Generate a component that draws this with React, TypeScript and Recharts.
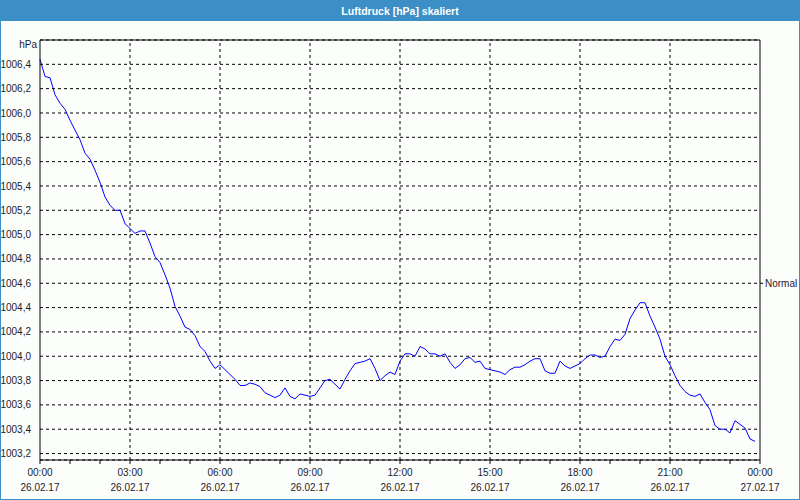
import React from "react";
import {
  LineChart,
  Line,
  XAxis,
  YAxis,
  CartesianGrid,
  ReferenceLine,
} from "recharts";

// Luftdruck in hPa, ein Wert alle 10 Minuten ab 26.02.17 00:00
const pressure = [
  1006.44, 1006.3, 1006.29, 1006.15, 1006.08, 1006.03, 1005.94, 1005.86, 1005.78, 1005.67,
  1005.62, 1005.53, 1005.43, 1005.31, 1005.24, 1005.2, 1005.2, 1005.09, 1005.05, 1005.01,
  1005.03, 1005.03, 1004.93, 1004.82, 1004.77, 1004.67, 1004.56, 1004.41, 1004.33, 1004.24,
  1004.22, 1004.17, 1004.08, 1004.04, 1003.96, 1003.9, 1003.93, 1003.89, 1003.85, 1003.81,
  1003.76, 1003.76, 1003.78, 1003.77, 1003.75, 1003.7, 1003.68, 1003.66, 1003.68, 1003.74,
  1003.67, 1003.65, 1003.69, 1003.68, 1003.67, 1003.68, 1003.74, 1003.8, 1003.81, 1003.77,
  1003.73, 1003.81, 1003.88, 1003.94, 1003.95, 1003.96, 1003.98, 1003.9, 1003.8, 1003.84,
  1003.87, 1003.85, 1003.96, 1004.02, 1004.02, 1004.0, 1004.08, 1004.06, 1004.02, 1004.02,
  1004.0, 1004.02, 1003.95, 1003.9, 1003.93, 1003.98, 1003.99, 1003.95, 1003.96, 1003.9,
  1003.89, 1003.88, 1003.87, 1003.85, 1003.89, 1003.91, 1003.91, 1003.93, 1003.96, 1003.98,
  1003.98, 1003.88, 1003.86, 1003.86, 1003.96, 1003.92, 1003.9, 1003.92, 1003.94, 1003.98,
  1004.01, 1004.01, 1003.99, 1004.0, 1004.08, 1004.14, 1004.13, 1004.18, 1004.31, 1004.38,
  1004.44, 1004.44, 1004.33, 1004.24, 1004.14, 1004.0, 1003.93, 1003.84, 1003.76, 1003.71,
  1003.68, 1003.67, 1003.69, 1003.62, 1003.56, 1003.43, 1003.4, 1003.4, 1003.37, 1003.47,
  1003.44, 1003.41, 1003.32, 1003.3,
];

const yTicks = [
  1003.2, 1003.4, 1003.6, 1003.8, 1004.0, 1004.2, 1004.4, 1004.6,
  1004.8, 1005.0, 1005.2, 1005.4, 1005.6, 1005.8, 1006.0, 1006.2, 1006.4,
];
const hourTicks = [
  0, 1, 2, 3, 4, 5, 6, 7, 8, 9, 10, 11, 12,
  13, 14, 15, 16, 17, 18, 19, 20, 21, 22, 23, 24,
];
const majorHours = [3, 6, 9, 12, 15, 18, 21];
const timeLabels: Record<number, [string, string]> = {
  0: ["00:00", "26.02.17"],
  3: ["03:00", "26.02.17"],
  6: ["06:00", "26.02.17"],
  9: ["09:00", "26.02.17"],
  12: ["12:00", "26.02.17"],
  15: ["15:00", "26.02.17"],
  18: ["18:00", "26.02.17"],
  21: ["21:00", "26.02.17"],
  24: ["00:00", "27.02.17"],
};
const normalLevel = 1004.6;
const Y_MIN = 1003.147;
const Y_MAX = 1006.6;

const data = pressure.map((p, i) => ({ t: i / 6, p }));

const FONT = "'Liberation Sans', Arial, sans-serif";
const TEXT = "#1c1c2c";
const BLUE = "#3c8fc6";

const TimeTick = (props: any) => {
  const { x, y, payload } = props;
  const lbl = timeLabels[payload.value];
  if (!lbl) return <g />;
  return (
    <text x={x} y={y} textAnchor="middle" fontSize={10} fontFamily={FONT} fill={TEXT}>
      <tspan x={x} dy={10}>{lbl[0]}</tspan>
      <tspan x={x} dy={15}>{lbl[1]}</tspan>
    </text>
  );
};

export default function App() {
  return (
    <div
      style={{
        position: "absolute",
        left: 0,
        top: 0,
        width: 800,
        height: 500,
        boxSizing: "border-box",
        border: `1px solid ${BLUE}`,
        background: "#fcfefc",
        overflow: "hidden",
      }}
    >
      <div
        style={{
          height: 20,
          background: BLUE,
          color: "#fff",
          fontFamily: FONT,
          fontWeight: "bold",
          fontSize: 10.5,
          lineHeight: "20px",
          textAlign: "center",
        }}
      >
        Luftdruck [hPa] skaliert
      </div>
      <div
        style={{
          position: "absolute",
          left: 0,
          top: 38,
          width: 36,
          textAlign: "right",
          fontFamily: FONT,
          fontSize: 10,
          color: TEXT,
        }}
      >
        hPa
      </div>
      <div style={{ position: "absolute", left: -1, top: -1 }}>
        <LineChart
          width={800}
          height={500}
          data={data}
          margin={{ top: 40, right: 0, bottom: 0, left: 0 }}
        >
          <CartesianGrid
            vertical={false}
            stroke="#000"
            strokeDasharray="3 3"
          />
          {majorHours.map((h) => (
            <ReferenceLine key={h} x={h} stroke="#000" strokeDasharray="3 3" />
          ))}
          <ReferenceLine y={Y_MAX} stroke="#000" />
          <XAxis
            dataKey="t"
            type="number"
            domain={[0, 24]}
            ticks={hourTicks}
            interval={0}
            height={40}
            tickSize={4}
            tickMargin={2}
            axisLine={{ stroke: "#000" }}
            tickLine={{ stroke: "#000" }}
            tick={<TimeTick />}
          />
          <YAxis
            domain={[Y_MIN, Y_MAX]}
            ticks={yTicks}
            interval={0}
            allowDataOverflow
            width={40}
            tickLine={false}
            tickMargin={3}
            axisLine={{ stroke: "#000" }}
            tickFormatter={(v: number) => v.toFixed(1).replace(".", ",")}
            tick={{ fontSize: 10, fontFamily: FONT, fill: TEXT }}
          />
          <YAxis
            yAxisId="right"
            orientation="right"
            domain={[Y_MIN, Y_MAX]}
            ticks={[normalLevel]}
            allowDataOverflow
            width={40}
            tickSize={3}
            tickMargin={2}
            axisLine={{ stroke: "#000" }}
            tickLine={{ stroke: "#000" }}
            tickFormatter={() => "Normal"}
            tick={{ fontSize: 10, fontFamily: FONT, fill: TEXT, textAnchor: "start" }}
          />
          <Line
            type="linear"
            dataKey="p"
            stroke="#0000ff"
            strokeWidth={1}
            dot={false}
            isAnimationActive={false}
          />
        </LineChart>
      </div>
    </div>
  );
}
